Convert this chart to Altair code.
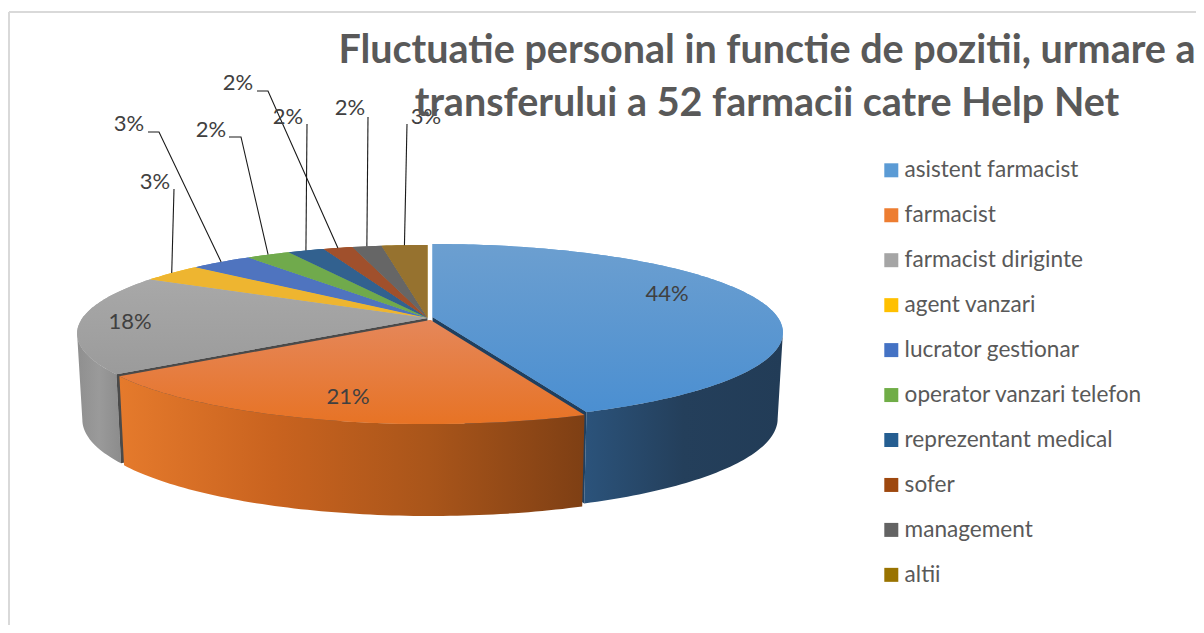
import math
import altair as alt
import pandas as pd

categories = ["asistent farmacist", "farmacist", "farmacist diriginte", "agent vanzari",
              "lucrator gestionar", "operator vanzari telefon", "reprezentant medical",
              "sofer", "management", "altii"]
shares = [43.9, 21.1, 18.1, 3.4, 3.4, 2.4, 2.0, 1.6, 1.6, 2.5]
labels = ["44%", "21%", "18%", "3%", "3%", "2%", "2%", "2%", "2%", "3%"]
legend_colors = ["#5b9bd5", "#ed7d31", "#a5a5a5", "#ffc000", "#4472c4",
                 "#70ad47", "#255e91", "#9e480e", "#636363", "#997300"]
face_colors = ["#5b9bd5", "#e87a30", "#a3a3a3", "#eeb530", "#4f74bf",
               "#70aa4c", "#32618f", "#a0502c", "#666666", "#96722f"]

title_lines = ["Fluctuatie personal in functie de pozitii, urmare a",
               "transferului a 52 farmacii catre Help Net"]

# label placement in the reference's pixel frame
label_x = [667, 348, 130, 155, 129, 211, 288, 238, 350, 426]
label_y = [294, 397, 322, 182, 124, 130, 117, 83, 108, 117]
leader_start = {3: [(174, 189)], 4: [(148, 132), (159, 132)], 5: [(229, 137), (241, 137)],
                6: [(307, 124)], 7: [(257, 91), (268, 91)], 8: [(368, 117)], 9: [(407, 124)]}

CX, CY, R, K, C = 427.5, 318.0, 345.0, 0.175, 85.8
EXPLODE = {0: (5, -1), 1: (3, 2)}
W, H = 1187, 613
SIL = math.degrees(math.asin(K))
xs = alt.Scale(domain=[9, 9 + W], range=[0, W], nice=False, zero=False)
ys = alt.Scale(domain=[12, 12 + H], range=[0, H], nice=False, zero=False)


def proj(theta, r=1.0, off=(0, 0)):
    t = math.radians(theta)
    u, v = r * math.sin(t), -r * math.cos(t)
    d = 1 - K * v
    return CX + off[0] + R * u / d, CY + off[1] + C * v / d, v


def wall_pt(theta, r=1.0, off=(0, 0)):
    x, y, v = proj(theta, r, off)
    return CX + off[0] + (x - CX - off[0]) * 0.985, y + 85 + 7 * v


cum, angles = 0.0, []
total = sum(shares)
for s in shares:
    angles.append((cum / total * 360, (cum + s) / total * 360))
    cum += s


def arc_pts(a, b, off):
    n = max(2, int((b - a) / 1.0) + 1)
    return [proj(a + (b - a) * j / (n - 1), 1.0, off)[:2] for j in range(n)]


def top_pts(i):
    off = EXPLODE.get(i, (0, 0))
    a, b = angles[i]
    p = [proj(0, 0, off)[:2]] + arc_pts(a, b, off)
    return p + [p[0]]


def side_pts(i, a, b):
    off = EXPLODE.get(i, (0, 0))
    n = max(2, int(b - a) + 1)
    tops = [proj(a + (b - a) * j / (n - 1), 1.0, off)[:2] for j in range(n)]
    bots = [wall_pt(a + (b - a) * j / (n - 1), 1.0, off) for j in range(n)]
    p = tops + bots[::-1]
    return p + [p[0]]


def cut_pts(i, theta):
    off = EXPLODE.get(i, (0, 0))
    p0 = proj(theta, 0, off)
    p1 = proj(theta, 1, off)
    b1 = wall_pt(theta, 1, off)
    p = [p0[:2], p1[:2], b1, (p0[0], p0[1] + 85), p0[:2]]
    return p


def grad(stops, vertical=False):
    n = len(stops) - 1
    return alt.LinearGradient(gradient="linear",
                              stops=[alt.GradientStop(offset=j / n, color=c) for j, c in enumerate(stops)],
                              x1=0, y1=0, x2=0 if vertical else 1, y2=1 if vertical else 0)


def poly(points, fill):
    df = pd.DataFrame({"x": [p[0] for p in points], "y": [p[1] for p in points],
                       "o": list(range(len(points)))})
    return alt.Chart(df).mark_line(fill=fill, strokeWidth=0, interpolate="linear").encode(
        x=alt.X("x:Q", scale=xs, axis=None),
        y=alt.Y("y:Q", scale=ys, axis=None),
        order=alt.Order("o:Q"))


# legend-carrying base of all faces
rows = []
for i, c in enumerate(categories):
    for j, p in enumerate(top_pts(i)):
        rows.append({"category": c, "x": p[0], "y": p[1], "o": j})
base = alt.Chart(pd.DataFrame(rows)).mark_line(strokeWidth=0).encode(
    x=alt.X("x:Q", scale=xs, axis=None),
    y=alt.Y("y:Q", scale=ys, axis=None),
    order=alt.Order("o:Q"),
    fill=alt.Fill("category:N",
                  scale=alt.Scale(domain=categories, range=legend_colors),
                  legend=alt.Legend(title=None, orient="none", legendX=871, legendY=147,
                                    symbolType="square", symbolSize=196, symbolStrokeWidth=0,
                                    symbolOpacity=1, labelFont="Lato", labelFontSize=22.6,
                                    labelColor="#595959", labelOffset=2, rowPadding=21.95,
                                    labelLimit=320)))

# chart frame: left and top edges only
frame_left = alt.Chart(pd.DataFrame({"x": [9]})).mark_rule(color="#d9d9d9", strokeWidth=2).encode(
    x=alt.X("x:Q", scale=xs, axis=None))
frame_top = alt.Chart(pd.DataFrame({"y": [12]})).mark_rule(color="#d9d9d9", strokeWidth=2).encode(
    y=alt.Y("y:Q", scale=ys, axis=None))

layers = [frame_left, frame_top, base]

# back: small slices
for i in range(3, 10):
    layers.append(poly(top_pts(i), face_colors[i]))

# gray slice
a, b = angles[2]
layers.append(poly(side_pts(2, a, 270 - SIL), grad(["#8f8f8f", "#9a9a9a", "#8c8c8c"])))
layers.append(poly(cut_pts(2, a), "#4a4a4a"))
layers.append(poly(top_pts(2), grad(["#a8a8a8", "#9b9b9b"], vertical=True)))

# blue slice walls
a, b = angles[0]
layers.append(poly(side_pts(0, 90 + SIL, b), grad(["#2b537b", "#243f5b", "#223c57"])))
layers.append(poly(cut_pts(0, b), "#1f3f5f"))

# orange slice
a, b = angles[1]
layers.append(poly(side_pts(1, a, b), grad(["#e57a2c", "#c9631f", "#a9551a", "#7e3f14"])))
layers.append(poly(top_pts(1), grad(["#e5875a", "#e77325"], vertical=True)))

# blue top
layers.append(poly(top_pts(0), grad(["#6c9fd0", "#4b8fd1"], vertical=True)))

# leader lines
for i, start in leader_start.items():
    rim = proj((angles[i][0] + angles[i][1]) / 2)[:2]
    layers.append(
        alt.Chart(pd.DataFrame({"x": [p[0] for p in start] + [rim[0]],
                                "y": [p[1] for p in start] + [rim[1]],
                                "o": list(range(len(start) + 1))}))
        .mark_line(color="#1a1a1a", strokeWidth=1.1)
        .encode(x=alt.X("x:Q", scale=xs, axis=None), y=alt.Y("y:Q", scale=ys, axis=None),
                order=alt.Order("o:Q")))

# percentage labels
layers.append(
    alt.Chart(pd.DataFrame({"x": label_x, "y": label_y, "t": labels}))
    .mark_text(font="Lato", fontSize=22, color="#404040")
    .encode(x=alt.X("x:Q", scale=xs, axis=None), y=alt.Y("y:Q", scale=ys, axis=None), text="t:N"))

chart = alt.layer(*layers).properties(
    width=W, height=H,
    padding={"left": 1, "top": 4, "right": 0, "bottom": 0},
    autosize=alt.AutoSizeParams(type="none"),
    title=alt.TitleParams(text=title_lines, anchor="middle", dx=758 - W / 2, dy=113, offset=0,
                          font="Lato", fontSize=39.5, fontWeight="bold", color="#595959",
                          lineHeight=53),
).configure_view(strokeWidth=0)

chart.save("out.html", embed_options={"renderer": "svg", "actions": False})
